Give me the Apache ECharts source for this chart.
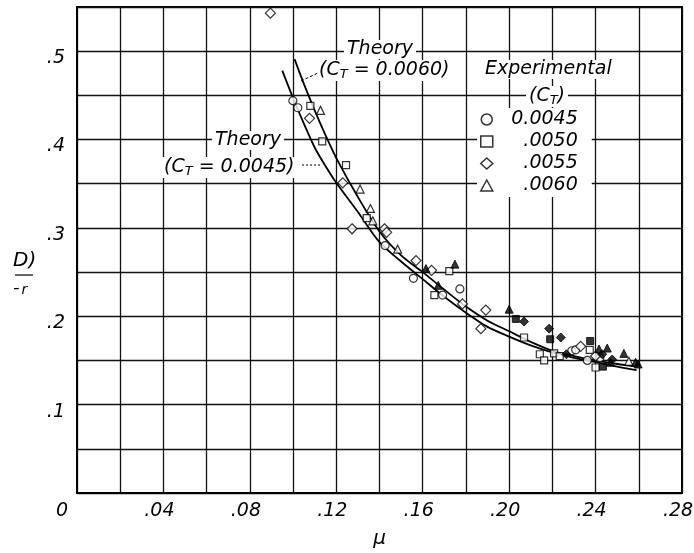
<!DOCTYPE html>
<html><head><meta charset="utf-8">
<script src="https://cdn.jsdelivr.net/npm/echarts@6/dist/echarts.min.js"></script>
<style>html,body{margin:0;padding:0;background:#fff}#c{width:694px;height:553px}</style>
</head><body><div id="c"></div>
<script>
const FONT = 'DejaVu Sans';
const xTickValues = [0, 0.04, 0.08, 0.12, 0.16, 0.20, 0.24, 0.28];
const xTickLabels = ['0', '.04', '.08', '.12', '.16', '.20', '.24', '.28'];
const yTickValues = [0.1, 0.2, 0.3, 0.4, 0.5];
const yTickLabels = ['.1', '.2', '.3', '.4', '.5'];
const legendNames = ['0.0045', '.0050', '.0055', '.0060'];
const legendSymbols = ['circle', 'rect', 'diamond', 'triangle'];

// Theory curves [mu, value]
const theory45 = [[0.095,0.478],[0.100,0.447],[0.105,0.418],[0.110,0.391],[0.115,0.370],[0.120,0.351],[0.130,0.318],[0.140,0.284],[0.150,0.262],[0.160,0.242],[0.170,0.222],[0.180,0.204],[0.190,0.188],[0.200,0.177],[0.210,0.167],[0.220,0.159],[0.230,0.153],[0.240,0.148],[0.250,0.143],[0.259,0.139]];
const theory60 = [[0.1007,0.491],[0.105,0.463],[0.110,0.433],[0.115,0.405],[0.120,0.379],[0.130,0.335],[0.140,0.296],[0.150,0.269],[0.160,0.250],[0.170,0.230],[0.180,0.211],[0.190,0.195],[0.200,0.183],[0.210,0.171],[0.220,0.161],[0.230,0.155],[0.240,0.150],[0.250,0.146],[0.259,0.143]];

// Experimental, open symbols
const exp0045 = [[0.0999,0.444],[0.1022,0.436],[0.1426,0.280],[0.1557,0.243],[0.1692,0.224],[0.1772,0.231],[0.2290,0.161],[0.2308,0.162],[0.2362,0.150],[0.2420,0.153]];
const exp0050 = [[0.1080,0.438],[0.1135,0.398],[0.1245,0.371],[0.1341,0.311],[0.1654,0.224],[0.1723,0.251],[0.2069,0.176],[0.2142,0.157],[0.2162,0.150],[0.2208,0.158],[0.2234,0.155],[0.2373,0.162],[0.2400,0.142]];
const exp0055 = [[0.0895,0.543],[0.1076,0.424],[0.1230,0.351],[0.1273,0.299],[0.1423,0.299],[0.1433,0.295],[0.1569,0.263],[0.1641,0.252],[0.1784,0.214],[0.1892,0.207],[0.1869,0.186],[0.2331,0.166],[0.2400,0.155]];
const exp0060 = [[0.1127,0.433],[0.1310,0.344],[0.1358,0.322],[0.1369,0.308],[0.1484,0.276],[0.2554,0.149]];
// Experimental, filled symbols
const filledTri = [[0.1615,0.254],[0.1749,0.259],[0.1672,0.235],[0.2000,0.208],[0.2416,0.163],[0.2454,0.164],[0.2531,0.158],[0.2469,0.148],[0.2585,0.148],[0.2597,0.146]];
const filledSq = [[0.2031,0.197],[0.2190,0.174],[0.2375,0.172],[0.2434,0.143]];
const filledDia = [[0.2069,0.194],[0.2185,0.186],[0.2239,0.176],[0.2265,0.157],[0.2431,0.157],[0.2477,0.151]];

const chart = echarts.init(document.getElementById('c'));
const openStyle = {color:'#fff', borderColor:'#000', borderWidth:1.2};
const fillStyle = {color:'#000', borderColor:'#000', borderWidth:1};
function sc(name, data, symbol, size, style) {
  return {name, type:'scatter', data, symbol, symbolSize:size, itemStyle:style, z:5, silent:true};
}
function ln(data) {
  return {type:'line', data, smooth:0.3, symbol:'none', lineStyle:{color:'#000', width:1.8}, z:3, silent:true};
}
const lbl = {fontFamily:FONT, fontStyle:'italic', fontSize:19, color:'#000'};
const txt = (s, x, y, extra) => ({type:'text', left:x, top:y, z:10, style:Object.assign({text:s, font:'italic 19px "DejaVu Sans"', fill:'#000', backgroundColor:'#fff', padding:[0,3], rich:{sub:{fontSize:13, fontStyle:'italic', fontFamily:FONT, verticalAlign:'bottom', padding:[8,0,0,0]}}}, extra||{})});

chart.setOption({
  animation:false,
  backgroundColor:'#fff',
  grid:{left:77, right:12, top:7, bottom:60, outerBoundsMode:'none', containLabel:false, show:true, borderColor:'#000', borderWidth:2, backgroundColor:'#fff'},
  xAxis:{type:'value', min:0, max:0.28, interval:0.02, name:'μ', nameLocation:'middle', nameGap:36,
    nameTextStyle:{fontFamily:FONT, fontStyle:'italic', fontSize:20, color:'#000'},
    axisLine:{show:true, lineStyle:{color:'#000', width:2}}, axisTick:{show:false},
    splitLine:{show:true, lineStyle:{color:'#111', width:1.3}},
    axisLabel:{interval:0, showMinLabel:true, showMaxLabel:true, margin:9, color:'#000', fontFamily:FONT, fontStyle:'italic', fontSize:19,
      formatter:v=>{const i=xTickValues.findIndex(t=>Math.abs(t-v)<1e-6); if(i<0) return ''; return i===0?'{z|0}':'{n|'+xTickLabels[i]+'}';},
      rich:{z:Object.assign({padding:[0,30,0,0]}, lbl), n:Object.assign({padding:[0,8,0,0]}, lbl)}}},
  yAxis:{type:'value', min:0, max:0.55, interval:0.05,
    axisLine:{show:true, lineStyle:{color:'#000', width:2}}, axisTick:{show:false},
    splitLine:{show:true, lineStyle:{color:'#111', width:1.3}},
    axisLabel:{margin:12, color:'#000', fontFamily:FONT, fontStyle:'italic', fontSize:19,
      formatter:v=>{const i=yTickValues.findIndex(t=>Math.abs(t-v)<1e-6); return i<0?'':'{v|'+yTickLabels[i]+'}';},
      rich:{v:Object.assign({padding:[14,0,0,0]}, lbl)}}},
  legend:{data:legendNames.map((n,i)=>({name:n, icon:legendSymbols[i], itemStyle:{color:'#fff', borderColor:'#000', borderWidth:1.5}})),
    orient:'vertical', left:477, top:108, itemWidth:12, itemHeight:11, itemGap:3,
    backgroundColor:'#fff', padding:[2,14,2,3], selectedMode:false,
    formatter:n=>'{a|'+n+'}',
    textStyle:{color:'#000', fontFamily:FONT, fontStyle:'italic', fontSize:19,
      rich:{a:{width:80, align:'right', color:'#000', fontFamily:FONT, fontStyle:'italic', fontSize:19, lineHeight:19}}}},
  graphic:[
    txt('Theory', 344, 40),
    txt('(C{sub|T} = 0.0060)', 316, 60),
    txt('Theory', 212, 131),
    txt('(C{sub|T} = 0.0045)', 161, 157),
    txt('Experimental', 482, 60),
    txt('(C{sub|T})', 526, 86),
    {type:'line', z:10, shape:{x1:301, y1:81, x2:318, y2:73}, style:{stroke:'#000', lineWidth:1, lineDash:[3,2]}},
    {type:'line', z:10, shape:{x1:302, y1:165, x2:321, y2:165}, style:{stroke:'#000', lineWidth:1, lineDash:[2,2]}},
    {type:'text', left:13, top:251, style:{text:'D)', font:'italic 20px "DejaVu Sans"', fill:'#000'}},
    {type:'line', shape:{x1:15, y1:275, x2:33, y2:275}, style:{stroke:'#000', lineWidth:1.2}},
    {type:'text', left:13, top:279, style:{text:'-{s|r}', font:'italic 18px "DejaVu Sans"', fill:'#000', rich:{s:{fontSize:14, fontStyle:'italic', fontFamily:FONT, padding:[4,0,0,2]}}}}
  ],
  series:[
    ln(theory45), ln(theory60),
    sc('0.0045', exp0045, 'circle', 8, openStyle),
    sc('.0050', exp0050, 'rect', 7, openStyle),
    sc('.0055', exp0055, 'diamond', 10, openStyle),
    sc('.0060', exp0060, 'triangle', 8, openStyle),
    sc('filledTri', filledTri, 'triangle', 8, fillStyle),
    sc('filledSq', filledSq, 'rect', 7, fillStyle),
    sc('filledDia', filledDia, 'diamond', 9, fillStyle)
  ]
});
</script></body></html>
